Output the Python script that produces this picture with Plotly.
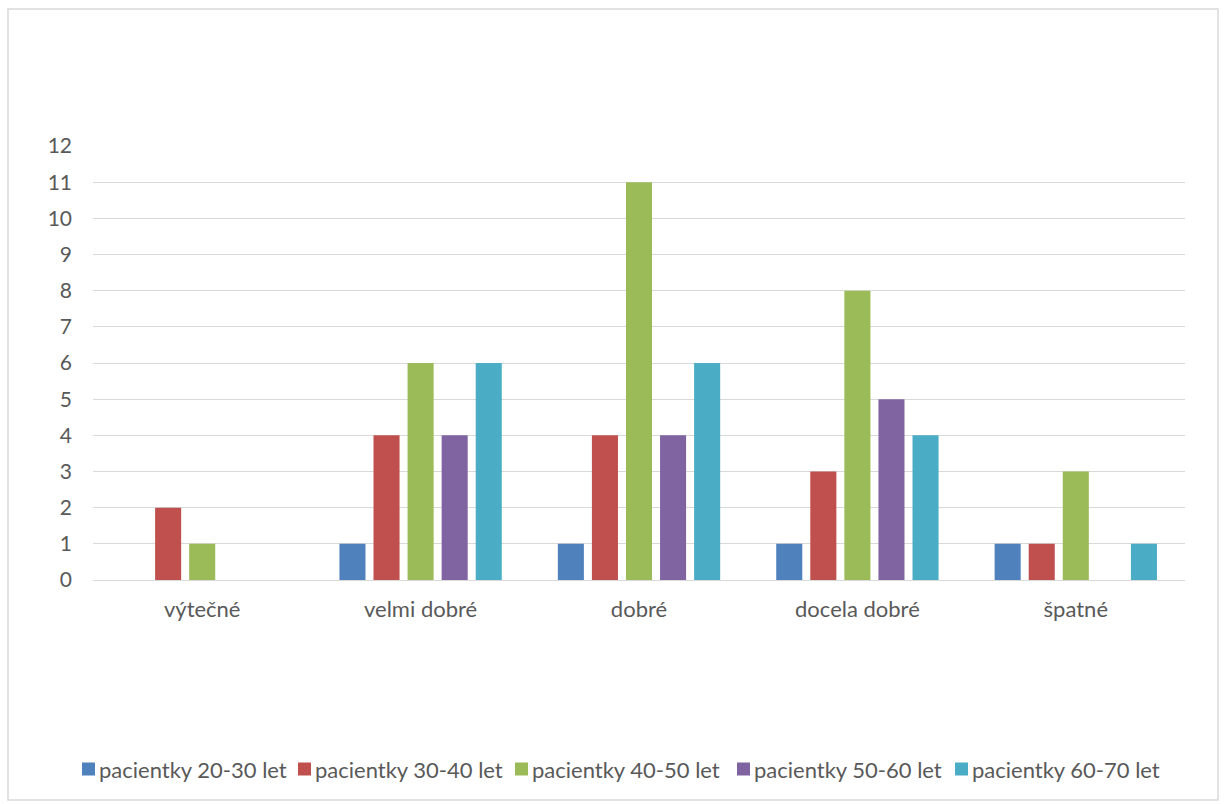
import plotly.graph_objects as go

categories = ["výtečné", "velmi dobré", "dobré", "docela dobré", "špatné"]
series_names = [
    "pacientky 20-30 let",
    "pacientky 30-40 let",
    "pacientky 40-50 let",
    "pacientky 50-60 let",
    "pacientky 60-70 let",
]
p20_30 = [0, 1, 1, 1, 1]
p30_40 = [2, 4, 4, 3, 1]
p40_50 = [1, 6, 11, 8, 3]
p50_60 = [0, 4, 4, 5, 0]
p60_70 = [0, 6, 6, 4, 1]
y_ticks = list(range(0, 13))

colors = ["#4F81BD", "#C0504D", "#9BBB59", "#8064A2", "#4BACC6"]
values = [p20_30, p30_40, p40_50, p50_60, p60_70]

FONT = "Lato, Open Sans, sans-serif"
GREY = "#595959"

# plot area in pixels (used to place paper-relative decorations)
L, R, T, B = 93, 1185, 146, 580
W, H = R - L, B - T


def px_x(px):
    return (px - L) / W


def px_y(py):
    return (B - py) / H


fig = go.Figure()
for name, vals, col in zip(series_names, values, colors):
    fig.add_trace(go.Bar(
        x=categories, y=vals, name=name,
        marker=dict(color=col, line=dict(width=0)),
        showlegend=False,
    ))

# outer chart border
fig.add_shape(
    type="rect", xref="paper", yref="paper",
    x0=px_x(8), x1=px_x(1218), y0=px_y(800), y1=px_y(9),
    line=dict(color="#D9D9D9", width=1.5), fillcolor="rgba(0,0,0,0)",
    layer="below",
)

# legend row below the plot: colour square + label per series
legend_x = [82, 298, 515, 737, 955]
legend_y = 769
sq = 13
for name, col, lx in zip(series_names, colors, legend_x):
    fig.add_shape(
        type="rect", xref="paper", yref="paper",
        x0=px_x(lx), x1=px_x(lx + sq),
        y0=px_y(legend_y + sq / 2), y1=px_y(legend_y - sq / 2),
        line=dict(width=0), fillcolor=col,
    )
    fig.add_annotation(
        xref="paper", yref="paper", x=px_x(lx + sq + 2), y=px_y(legend_y),
        xanchor="left", yanchor="middle", text=name, showarrow=False,
        font=dict(family=FONT, size=22, color=GREY),
    )

fig.update_layout(
    width=1224, height=804,
    margin=dict(l=L, r=1224 - R, t=T, b=804 - B),
    paper_bgcolor="white", plot_bgcolor="white",
    barmode="group", bargap=0.22, bargroupgap=0.235,
    font=dict(family=FONT, color=GREY, size=18),
    showlegend=False,
    xaxis=dict(
        showgrid=False, showline=False, ticks="",
        tickfont=dict(size=22, color=GREY), ticklabelstandoff=14,
    ),
    yaxis=dict(
        range=[0, 12], tickvals=y_ticks,
        showgrid=True, gridcolor="#D9D9D9", gridwidth=1,
        zeroline=True, zerolinecolor="#D9D9D9", zerolinewidth=1,
        showline=False, ticks="", ticklabelstandoff=20,
        tickfont=dict(size=21, color=GREY),
    ),
)

fig.write_html("out.html")
